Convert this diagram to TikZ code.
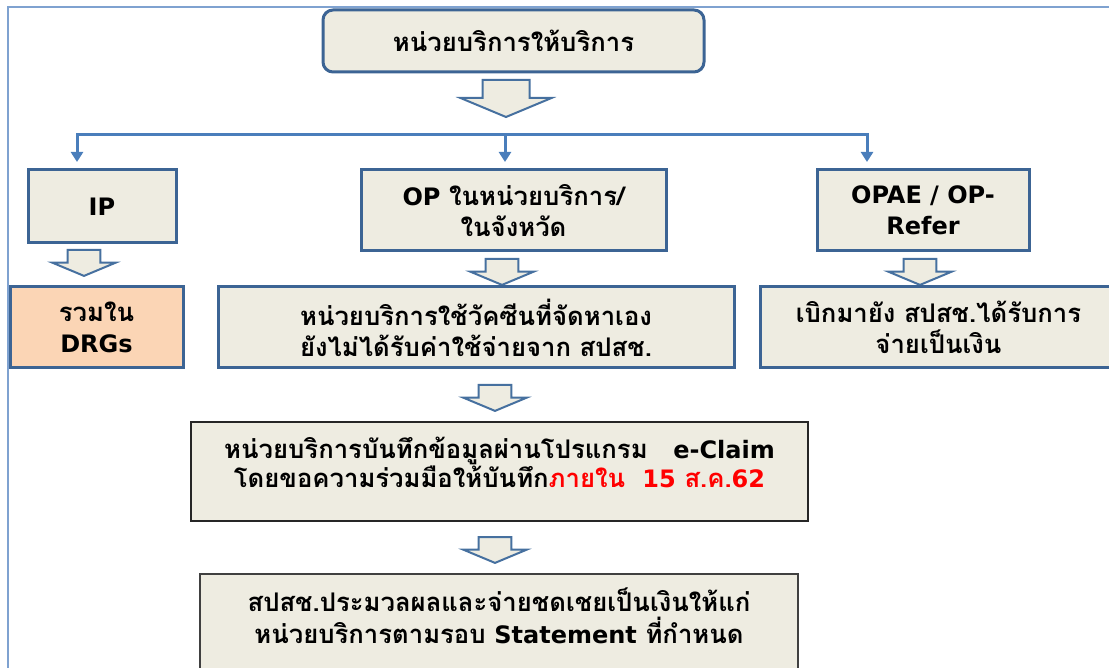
\documentclass[tikz,border=0pt]{standalone}
\usepackage{fontspec}
\setmainfont[Script=Thai, Scale=1.07]{Loma}
\newfontfamily\latfont{DejaVu Sans}
\usepackage{tikz}
\usetikzlibrary{arrows.meta, positioning}
\definecolor{boxfill}{HTML}{EEECE1}
\definecolor{boxline}{HTML}{3C6494}
\definecolor{arrowline}{HTML}{46709F}
\definecolor{linkblue}{HTML}{4A7EBB}
\definecolor{frameblue}{HTML}{7FA2D0}
\definecolor{drgfill}{HTML}{FBD5B5}
\tikzset{
  box/.style = {draw=boxline, fill=boxfill, line width=1.5pt, align=center, inner sep=0pt,
                font=\fontsize{12}{15.5}\selectfont\bfseries},
  linkline/.style = {draw=linkblue, line width=1.5pt},
  pics/blockarrow/.style = {code={
    \draw[arrowline, fill=boxfill, line width=1pt]
      (-23.5,0) -- (23.5,0) -- (23.5,18) -- (45.5,18) -- (0,37) -- (-45.5,18) -- (-23.5,18) -- cycle;
  }}
}

\begin{document}
\begin{tikzpicture}[
    x=0.5pt, y=-0.5pt,
    endtip/.style={-{Triangle[width=6pt,length=5pt]}},
    small/.style={scale=0.7}
  ]
    \useasboundingbox (0,0) rectangle (1109,668);
    \draw[frameblue, line width=0.75pt] (8,7) rectangle (1130,700);

    \node[box, rounded corners=5pt, minimum width=190.5pt, minimum height=31pt] (unit) at (513.5,41) {หน่วยบริการให้บริการ};
    \pic (a0) at (506,80) {blockarrow};

    % bus and the three drops
    \coordinate (busM) at (505,135);
    \coordinate (busR) at (867,135);
    \coordinate (toIP) at (77,162);
    \coordinate (toOP) at (505,162);
    \coordinate (toOPAE) at (867,162);
    \draw[linkline, {Triangle[width=6pt,length=5pt]}-{Triangle[width=6pt,length=5pt]}] (toIP) |- (busR) -- (toOPAE);
    \draw[linkline, endtip] (busM) -- (toOP);

    \node[box, minimum width=74pt, minimum height=36.5pt] (ip) at (102,206.5) {\latfont IP};
    \node[box, minimum width=152.5pt, minimum height=40.5pt] (op) at (513.5,210.5) {{\latfont OP} ในหน่วยบริการ/\\ในจังหวัด};
    \node[box, minimum width=106pt, minimum height=40.5pt] (opae) at (923,210.5) {{\latfont OPAE / OP-}\\{\latfont Refer}};

    \pic[small] (a1) at (84,250) {blockarrow};
    \pic[small] (a2) at (502,259) {blockarrow};
    \pic[small] (a3) at (920,259) {blockarrow};

    \node[box, fill=drgfill, minimum width=86.5pt, minimum height=40.5pt] (drg) at (96.5,327.5) {รวมใน\\{\latfont DRGs}};
    \node[box, minimum width=258pt, minimum height=40.5pt] (vac) at (476,327.5) {หน่วยบริการใช้วัคซีนที่จัดหาเอง\\ยังไม่ได้รับค่าใช้จ่ายจาก สปสช.};
    \node[box, minimum width=178.5pt, minimum height=40.5pt] (pay) at (938.5,327.5) {เบิกมายัง สปสช.ได้รับการ\\จ่ายเป็นเงิน};

    \pic[small] (a4) at (495,385) {blockarrow};

    \node[box, draw=black!85, line width=1pt, minimum width=308.5pt, minimum height=49.5pt] (claim) at (499.5,471.5)
      {หน่วยบริการบันทึกข้อมูลผ่านโปรแกรม\quad{\latfont e-Claim}\\[-1pt]โดยขอความร่วมมือให้บันทึก\textcolor{red}{ภายใน\ \ {\latfont 15} ส.ค.{\latfont 62}}\\[-6pt]\mbox{}};

    \pic[small] (a5) at (495,537) {blockarrow};

    \node[box, draw=black!75, line width=1pt, minimum width=299pt, minimum height=52pt] (stmt) at (499,626)
      {สปสช.ประมวลผลและจ่ายชดเชยเป็นเงินให้แก่\\[0.5pt]หน่วยบริการตามรอบ {\latfont Statement} ที่กำหนด\\[-5pt]\mbox{}};
  \end{tikzpicture}
\end{document}
